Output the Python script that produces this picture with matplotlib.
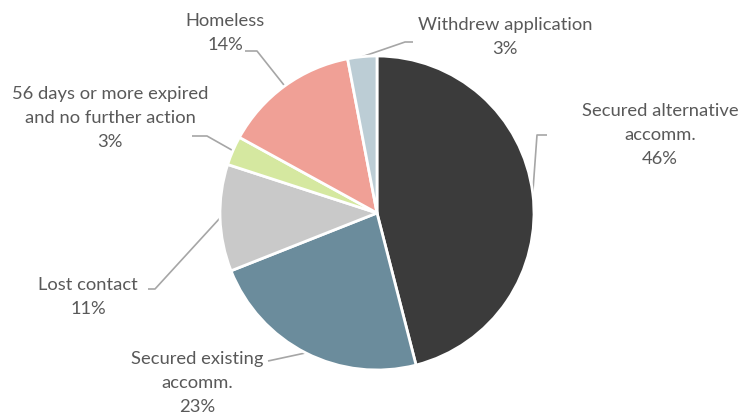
import numpy as np
import matplotlib.pyplot as plt

# shares of outcomes, clockwise from 12 o'clock
labels = ["Secured alternative\naccomm.", "Secured existing\naccomm.", "Lost contact",
          "56 days or more expired\nand no further action", "Homeless", "Withdrew application"]
shares = [46, 23, 11, 3, 14, 3]
colors = ["#3b3b3b", "#6b8c9c", "#c9c9c9", "#d5e8a0", "#f0a096", "#bccdd5"]

W, H = 740, 416
cx, cy, r = 377, H - 213, 157

plt.rcParams['font.family'] = ['Lato', 'DejaVu Sans']
fig = plt.figure(figsize=(W / 100, H / 100), dpi=100)
ax = fig.add_axes([0, 0, 1, 1])

wedges, _ = ax.pie(shares, colors=colors, startangle=90, counterclock=False,
                   center=(cx, cy), radius=r, frame=True,
                   wedgeprops=dict(edgecolor='white', linewidth=2))
ax.set_xlim(0, W)
ax.set_ylim(0, H)
ax.set_aspect('equal')
ax.axis('off')

# label block centre (pixels from top-left), leader start next to text, elbow point
layout = [
    ((660, 135), (547, 135), (537, 135)),
    ((197, 383), (268, 361), None),
    ((88, 297), (148, 289), (155, 289)),
    ((110, 118), (192, 136), (207, 136)),
    ((225, 33), (245, 51), (257, 51)),
    ((505, 37), (413, 42), (405, 42)),
]

line_c = "#a6a6a6"
text_c = "#595959"
for w, lab, val, (tpos, start, elbow) in zip(wedges, labels, shares, layout):
    mid = np.deg2rad((w.theta1 + w.theta2) / 2)
    ex, ey = cx + r * np.cos(mid), cy + r * np.sin(mid)
    pts = [start] + ([elbow] if elbow else [])
    xs = [p[0] for p in pts] + [ex]
    ys = [H - p[1] for p in pts] + [ey]
    ax.plot(xs, ys, color=line_c, lw=1.2, solid_capstyle='butt', zorder=0)
    ax.text(tpos[0], H - tpos[1], f"{lab}\n{val}%", ha='center', va='center',
            fontsize=13.2, color=text_c, linespacing=1.6)

fig.savefig("out.png", dpi=100)
